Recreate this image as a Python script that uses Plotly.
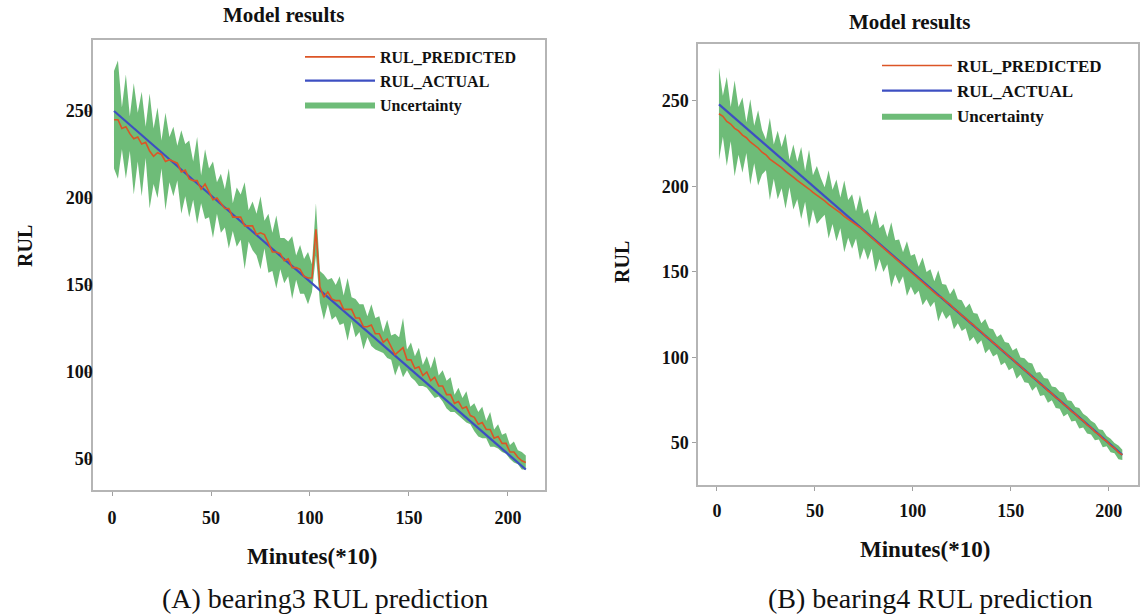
import plotly.graph_objects as go

# ---------------- data: (A) bearing3 ----------------
a_pred = [245, 245, 240, 241, 237, 234, 235, 231, 232, 227, 224, 226, 225, 221, 222, 221, 220, 215, 216, 211,
          210, 210, 205, 208, 203, 199, 200, 197, 194, 194, 189, 189, 189, 184, 184, 184, 179, 180, 179, 174,
          169, 169, 168, 164, 165, 160, 160, 159, 155, 154, 154, 182, 149, 143, 146, 142, 141, 141, 136, 136,
          136, 131, 131, 126, 126, 127, 122, 122, 117, 119, 114, 110, 112, 114, 107, 107, 102, 103, 98, 100,
          95, 97, 92, 92, 87, 87, 82, 83, 79, 80, 75, 74, 70, 71, 67, 67, 62, 63, 59, 59,
          54, 54, 51, 49, 48]
a_unc = [28, 34, 12, 30, 10, 32, 14, 30, 9, 33, 16, 26, 8, 28, 13, 20, 10, 24, 15, 22,
         11, 25, 8, 20, 14, 22, 9, 17, 11, 23, 8, 17, 13, 25, 9, 14, 12, 21, 8, 17,
         11, 21, 9, 13, 10, 18, 7, 14, 10, 15, 8, 15, 9, 13, 7, 12, 9, 14, 8, 18,
         7, 11, 8, 13, 6, 12, 9, 10, 6, 11, 7, 12, 8, 17, 6, 10, 7, 11, 6, 9,
         7, 12, 6, 9, 8, 10, 5, 8, 6, 9, 5, 8, 7, 9, 5, 10, 5, 7, 5, 6,
         4, 6, 4, 5, 4]
a_actual_x = [1, 209]
a_actual_y = [250, 44]

# ---------------- data: (B) bearing4 ----------------
b_pred = [242.5, 241, 238, 236.5, 234, 232.5, 230, 228.5, 226, 224.5, 222.5, 220, 218.5, 216, 214.5, 212.5,
          211, 209, 207.5, 205.5, 203.5, 202, 200, 198.5, 196.5, 195, 193, 191.5, 189.5, 188, 186, 184.5,
          182.5, 181, 179.5, 177.5, 176, 174, 172, 170.5, 168, 166.5, 164, 162.5, 160, 158.5, 156, 154.5,
          152, 150.5, 148.5, 146, 144.5, 142, 140.5, 138.5, 136, 135, 132.5, 131, 128.5, 127, 124.5, 123,
          120.5, 119, 116.5, 115, 112.5, 111, 108.5, 107, 104.5, 103, 100.5, 99, 96.5, 95, 92.5, 91,
          88.5, 87, 84.5, 83, 80.5, 79, 76.5, 75, 72.5, 71, 68.5, 67, 64.5, 63, 60.5, 59,
          56.5, 55, 52.5, 51, 48.5, 47, 44.5, 43]
b_unc = [27, 12, 26, 10, 28, 14, 22, 9, 25, 11, 22, 13, 9, 24, 10, 20, 12, 22, 8, 19,
         11, 21, 9, 23, 10, 17, 12, 8, 20, 10, 18, 9, 21, 11, 16, 8, 19, 10, 15, 7,
         18, 9, 14, 8, 19, 10, 13, 7, 16, 9, 12, 7, 14, 8, 11, 6, 15, 8, 10, 6,
         12, 7, 9, 6, 11, 7, 9, 5, 10, 6, 8, 5, 9, 6, 8, 5, 9, 5, 7, 6,
         8, 4, 7, 5, 7, 4, 6, 5, 7, 4, 6, 4, 6, 4, 5, 4, 5, 3, 5, 3,
         4, 3, 4, 3]
b_actual_x = [1, 207]
b_actual_y = [248, 43]

x_ticks = [0, 50, 100, 150, 200]
y_ticks = [50, 100, 150, 200, 250]

W, H = 1148, 616
SERIF = "Liberation Serif, Times New Roman, serif"
GREEN = "rgba(98,182,108,0.92)"
RED = "#dc5526"
BLUE = "#3d4fc2"

def px(xp):
    return xp / W

def py(yp):
    return 1 - yp / H

fig = go.Figure()

def add_panel(pred, unc, ax_x, ax_y, xref, yref, legend):
    mins = list(range(1, 2 * len(pred), 2))
    upper = [p + u for p, u in zip(pred, unc)]
    lower = [p - u for p, u in zip(pred, unc)]
    fig.add_trace(go.Scatter(x=mins, y=lower, mode="lines", line=dict(width=0, color=GREEN),
                             showlegend=False, hoverinfo="skip", xaxis=xref, yaxis=yref))
    fig.add_trace(go.Scatter(x=mins, y=upper, mode="lines", line=dict(width=0, color=GREEN),
                             fill="tonexty", fillcolor=GREEN, name="Uncertainty", legendrank=3,
                             legend=legend, xaxis=xref, yaxis=yref))
    fig.add_trace(go.Scatter(x=ax_x, y=ax_y, mode="lines", line=dict(width=2.2, color=BLUE),
                             name="RUL_ACTUAL", legendrank=2, legend=legend, xaxis=xref, yaxis=yref))
    fig.add_trace(go.Scatter(x=mins, y=pred, mode="lines", line=dict(width=1.6, color=RED),
                             name="RUL_PREDICTED", legendrank=1, legend=legend, xaxis=xref, yaxis=yref))

add_panel(a_pred, a_unc, a_actual_x, a_actual_y, "x", "y", "legend")
add_panel(b_pred, b_unc, b_actual_x, b_actual_y, "x2", "y2", "legend2")

axis_common = dict(showgrid=False, zeroline=False, showline=True, mirror=True,
                   linecolor="#b5b5b5", linewidth=1.5, ticks="outside", ticklen=4,
                   tickcolor="#a0a0a0", tickwidth=1,
                   tickfont=dict(family=SERIF, size=18, color="#111", weight="bold"))

fig.update_layout(
    width=W, height=H, margin=dict(l=0, r=0, t=0, b=0),
    paper_bgcolor="white", plot_bgcolor="white",
    xaxis=dict(domain=[px(93), px(545)], range=[-9.6, 218.7], tickvals=x_ticks,
               anchor="y", ticklabelstandoff=7, **axis_common),
    yaxis=dict(domain=[py(490), py(40)], range=[32.2, 290.8], tickvals=y_ticks,
               anchor="x", ticklabelstandoff=-9, **axis_common),
    xaxis2=dict(domain=[px(698), px(1138)], range=[-9.7, 215], tickvals=x_ticks,
                anchor="y2", ticklabelstandoff=5, **axis_common),
    yaxis2=dict(domain=[py(485), py(44)], range=[25.4, 283.3], tickvals=y_ticks,
                anchor="x2", ticklabelstandoff=0, **axis_common),
    legend=dict(x=px(300), y=py(40), xanchor="left", yanchor="top", bgcolor="rgba(0,0,0,0)",
                itemwidth=70, tracegroupgap=0, traceorder="normal",
                font=dict(family=SERIF, size=16, color="#111", weight="bold")),
    legend2=dict(x=px(877), y=py(48), xanchor="left", yanchor="top", bgcolor="rgba(0,0,0,0)",
                 itemwidth=70, tracegroupgap=0, traceorder="normal",
                 font=dict(family=SERIF, size=17, color="#111", weight="bold")),
)

def text(x, y, s, size, bold=True, angle=0):
    fig.add_annotation(x=px(x), y=py(y), xref="paper", yref="paper", text=s, showarrow=False,
                       xanchor="center", yanchor="middle", textangle=angle,
                       font=dict(family=SERIF, size=size, color="#111",
                                 weight="bold" if bold else "normal"))

text(284, 15, "Model results", 21)
text(910, 22, "Model results", 21)
text(25, 246, "RUL", 20, angle=-90)
text(622, 262, "RUL", 20, angle=-90)
text(312, 556, "Minutes(*10)", 23)
text(925, 549, "Minutes(*10)", 23)
text(325, 598, "(A) bearing3 RUL prediction", 28, bold=False)
text(930, 598, "(B) bearing4 RUL prediction", 28, bold=False)

fig.write_html("out.html")
